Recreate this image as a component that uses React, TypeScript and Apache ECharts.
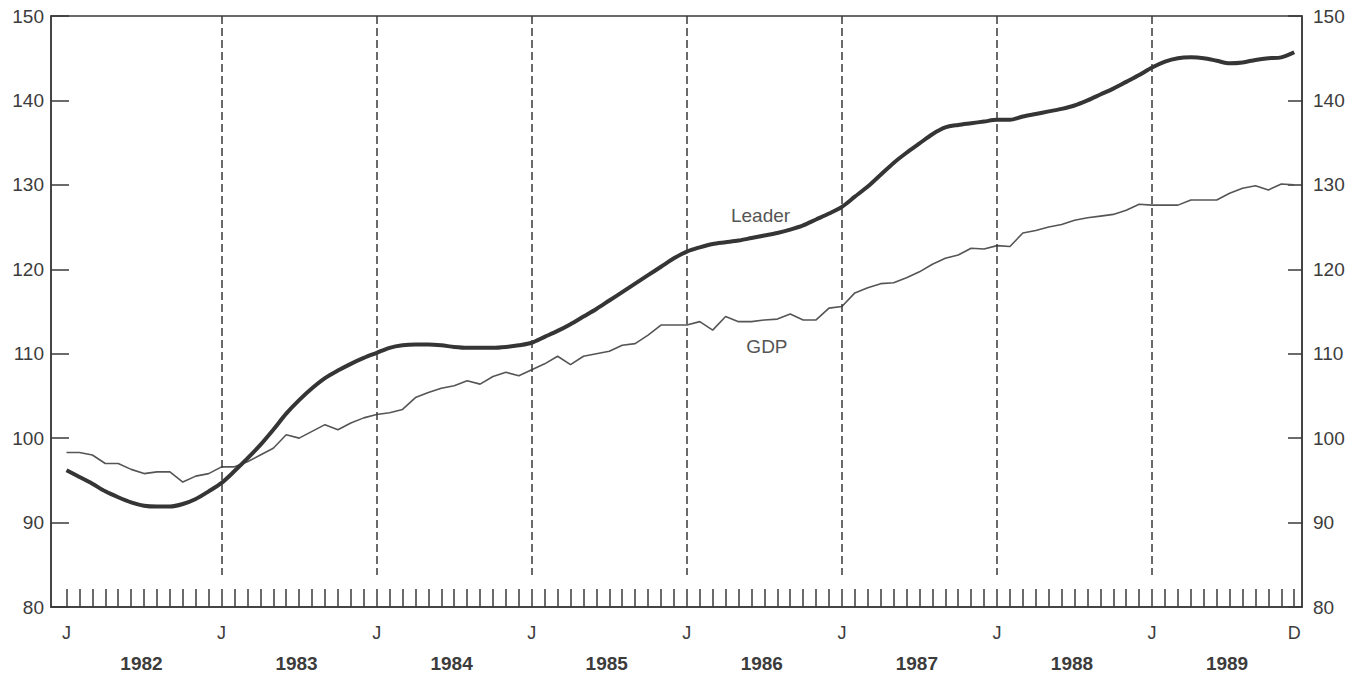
import React, { useEffect, useRef } from "react";
import * as echarts from "echarts";

const leader = [
  96.2, 95.4, 94.6, 93.7, 93.0, 92.4, 92.0, 91.9, 91.9, 92.2, 92.8, 93.7,
  94.7, 96.1, 97.6, 99.2, 101.0, 102.9, 104.5, 105.9, 107.1, 108.0, 108.8, 109.5,
  110.1, 110.7, 111.0, 111.1, 111.1, 111.0, 110.8, 110.7, 110.7, 110.7, 110.8, 111.0,
  111.3, 112.0, 112.7, 113.5, 114.4, 115.3, 116.3, 117.3, 118.3, 119.3, 120.3, 121.3,
  122.1, 122.6, 123.0, 123.2, 123.4, 123.7, 124.0, 124.3, 124.7, 125.2, 125.9, 126.6,
  127.4, 128.6, 129.8, 131.2, 132.6, 133.8, 134.9, 136.0, 136.8, 137.1, 137.3, 137.5,
  137.7, 137.7, 138.1, 138.4, 138.7, 139.0, 139.4, 140.0, 140.7, 141.4, 142.2, 143.0,
  143.9, 144.6, 145.0, 145.1, 145.0, 144.7, 144.4, 144.5, 144.8, 145.0, 145.1, 145.7,
];

const gdp = [
  98.3, 98.3, 98.0, 97.0, 97.0, 96.3, 95.8, 96.0, 96.0, 94.8, 95.5, 95.8,
  96.6, 96.6, 97.2, 98.0, 98.8, 100.4, 100.0, 100.8, 101.6, 101.0, 101.8, 102.4,
  102.8, 103.0, 103.4, 104.8, 105.4, 105.9, 106.2, 106.8, 106.4, 107.3, 107.8, 107.4,
  108.1, 108.8, 109.7, 108.7, 109.7, 110.0, 110.3, 111.0, 111.2, 112.2, 113.4, 113.4,
  113.4, 113.8, 112.8, 114.4, 113.8, 113.8, 114.0, 114.1, 114.7, 114.0, 114.0, 115.4,
  115.6, 117.2, 117.8, 118.3, 118.4, 119.0, 119.7, 120.6, 121.3, 121.7, 122.5, 122.4,
  122.8, 122.7, 124.3, 124.6, 125.0, 125.3, 125.8, 126.1, 126.3, 126.5, 127.0, 127.7,
  127.6, 127.6, 127.6, 128.2, 128.2, 128.2, 129.0, 129.6, 129.9, 129.4, 130.1, 130.0,
];

const years = ["1982", "1983", "1984", "1985", "1986", "1987", "1988", "1989"];
const monthTicks = Array.from({ length: 96 }, (_, i) => i);
const monthLabelValues = [0, 12, 24, 36, 48, 60, 72, 84, 95];
const yearLabelValues = [5.8, 17.8, 29.8, 41.8, 53.8, 65.8, 77.8, 89.8];
const dashedMonths = [12, 24, 36, 48, 60, 72, 84];
const yTicks = [80, 90, 100, 110, 120, 130, 140, 150];

const FONT = "'Liberation Sans', Arial, Helvetica, sans-serif";
const INK = "#3a3a3a";
const TEXT = "#3c3c3c";

export default function App() {
  const ref = useRef<HTMLDivElement>(null);

  useEffect(() => {
    if (!ref.current) return;
    const chart = echarts.init(ref.current, undefined, { renderer: "svg" });
    const leaderData = leader.map((v, i) => [i, v]);
    const gdpData = gdp.map((v, i) => [i, v]);

    chart.setOption({
      animation: false,
      backgroundColor: "#ffffff",
      grid: {
        left: 51,
        top: 16,
        width: 1251,
        height: 591,
        show: true,
        borderColor: INK,
        borderWidth: 1.5,
        backgroundColor: "transparent",
      },
      xAxis: [
        {
          type: "value",
          min: -1.2,
          max: 95.6,
          position: "bottom",
          axisLine: { show: true, onZero: false, lineStyle: { color: INK, width: 1.5 } },
          axisTick: {
            show: true,
            inside: true,
            length: 18,
            customValues: monthTicks,
            lineStyle: { color: INK, width: 1.5 },
          },
          axisLabel: {
            show: true,
            customValues: monthLabelValues,
            formatter: (v: number) => (v === 95 ? "D" : "J"),
            margin: 17,
            fontSize: 18,
            color: TEXT,
            fontFamily: FONT,
          },
          splitLine: { show: false },
        },
        {
          type: "value",
          min: -1.2,
          max: 95.6,
          position: "bottom",
          axisLine: { show: false, onZero: false },
          axisTick: { show: false },
          axisLabel: {
            show: true,
            customValues: yearLabelValues,
            formatter: (v: number) => years[Math.floor(v / 12)],
            margin: 47,
            fontSize: 19,
            fontWeight: "bold",
            color: TEXT,
            fontFamily: FONT,
          },
          splitLine: { show: false },
        },
      ],
      yAxis: [
        {
          type: "value",
          min: 80,
          max: 150,
          interval: 10,
          position: "left",
          axisLine: { show: true, onZero: false, lineStyle: { color: INK, width: 1.5 } },
          axisTick: { show: true, inside: true, length: 18, lineStyle: { color: INK, width: 1.5 } },
          axisLabel: { margin: 7, fontSize: 19, color: TEXT, fontFamily: FONT, customValues: yTicks },
          splitLine: { show: false },
        },
        {
          type: "value",
          min: 80,
          max: 150,
          interval: 10,
          position: "right",
          axisLine: { show: true, onZero: false, lineStyle: { color: INK, width: 1.5 } },
          axisTick: { show: true, inside: true, length: 14, lineStyle: { color: INK, width: 1.5 } },
          axisLabel: { margin: 11, fontSize: 19, color: TEXT, fontFamily: FONT, customValues: yTicks },
          splitLine: { show: false },
        },
      ],
      series: [
        {
          name: "GDP",
          type: "line",
          data: gdpData,
          symbol: "none",
          lineStyle: { color: "#555", width: 1.6 },
          z: 3,
          markPoint: {
            symbol: "circle",
            symbolSize: 0,
            silent: true,
            label: {
              show: true,
              position: "inside",
              formatter: "GDP",
              fontSize: 19,
              color: "#555",
              fontFamily: FONT,
            },
            data: [{ coord: [54.2, 110.8] }],
          },
          markLine: {
            silent: true,
            symbol: ["none", "none"],
            label: { show: false },
            lineStyle: { color: INK, width: 1.5, type: [8, 4] },
            data: dashedMonths.map((m) => [
              { coord: [m, 150] },
              { coord: [m, 83.8] },
            ]),
          },
        },
        {
          name: "Leader",
          type: "line",
          data: leaderData,
          symbol: "none",
          smooth: 0.3,
          lineStyle: { color: "#353535", width: 4 },
          z: 4,
          markPoint: {
            symbol: "circle",
            symbolSize: 0,
            silent: true,
            label: {
              show: true,
              position: "inside",
              formatter: "Leader",
              fontSize: 19,
              color: "#555",
              fontFamily: FONT,
            },
            data: [{ coord: [53.7, 126.4] }],
          },
        },
      ],
    });

    return () => chart.dispose();
  }, []);

  return (
    <div
      ref={ref}
      style={{ position: "fixed", left: 0, top: 0, width: 1361, height: 677, background: "#fff" }}
    />
  );
}
